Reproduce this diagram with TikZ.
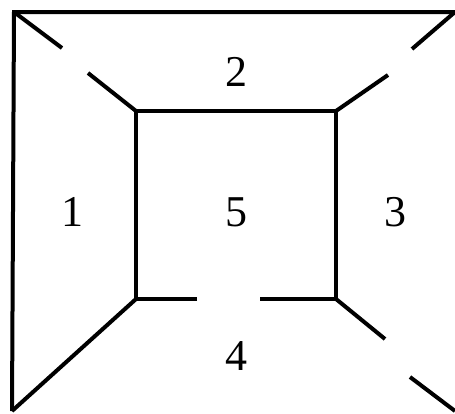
\documentclass[tikz,border=0pt]{standalone}
\usepackage{fontspec}
\setmainfont{Liberation Serif}
\begin{document}
\begin{tikzpicture}[x=1pt,y=-1pt,
  edge/.style={line width=4pt,line cap=butt,line join=miter},
  lab/.style={font=\fontsize{44}{44}\selectfont,inner sep=0pt}]
\useasboundingbox[fill=white] (0,0) rectangle (455,413);
% outer
\coordinate (OTL) at (14,12);
\coordinate (OTR) at (455,12);
\coordinate (OBL) at (12,411);
\coordinate (OBR) at (455,411);
% inner square
\coordinate (ITL) at (136,111);
\coordinate (ITR) at (336,111);
\coordinate (IBL) at (136,299);
\coordinate (IBR) at (336,299);
% gap ends
\coordinate (G1) at (197,299);
\coordinate (G2) at (260,299);
\coordinate (A1) at (62,48);
\coordinate (A2) at (88,73);
\coordinate (B1) at (412,49);
\coordinate (B2) at (388,75);
\coordinate (C1) at (385,339);
\coordinate (C2) at (410,377);
\draw[edge] (OBL) -- (OTL) -- (OTR);
\draw[edge] (G1) -- (IBL) -- (ITL) -- (ITR) -- (IBR) -- (G2);
\draw[edge] (OTL) -- (A1);
\draw[edge] (A2) -- (ITL);
\draw[edge] (OTR) -- (B1);
\draw[edge] (B2) -- (ITR);
\draw[edge] (IBL) -- (OBL);
\draw[edge] (IBR) -- (C1);
\draw[edge] (C2) -- (OBR);
\node[lab] (n2) at (236,72) {2};
\node[lab] (n1) at (72,212) {1};
\node[lab] (n5) at (236,212) {5};
\node[lab] (n3) at (395,212) {3};
\node[lab] (n4) at (236,356) {4};
\end{tikzpicture}
\end{document}
